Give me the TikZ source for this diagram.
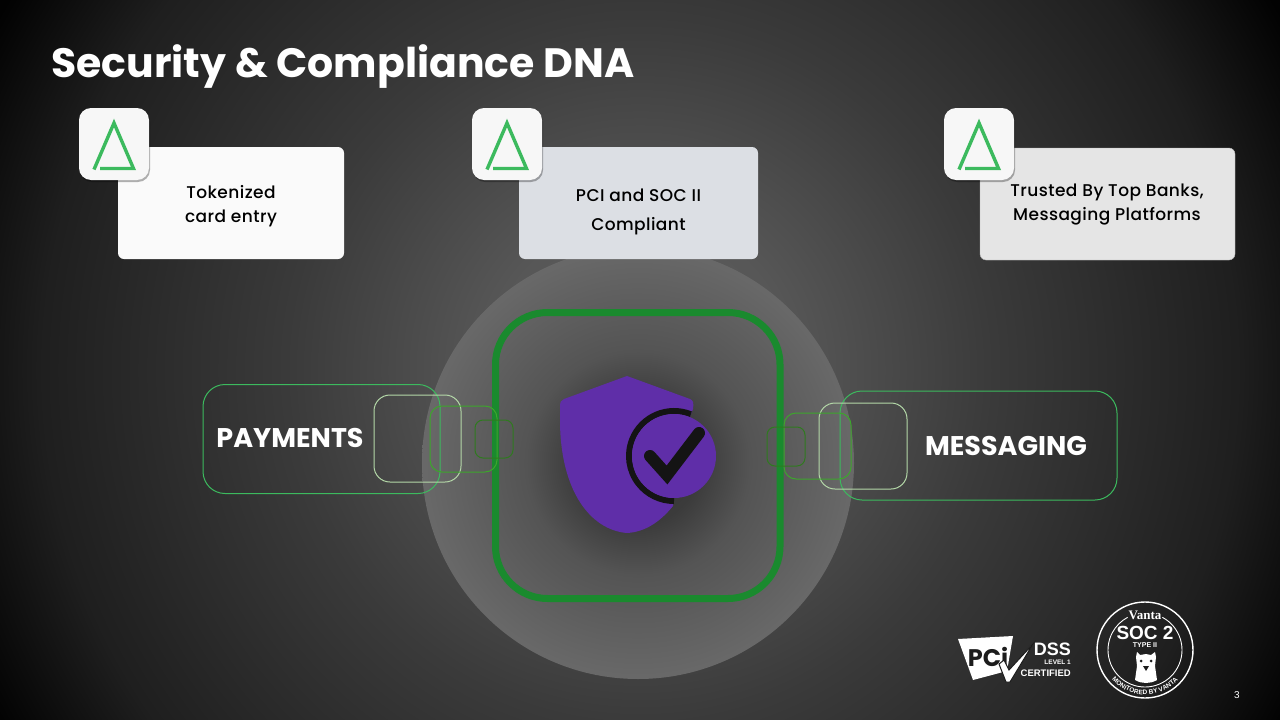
\documentclass[tikz,border=0pt]{standalone}
\usepackage{fontspec}
\setmainfont{Poppins}
\newfontfamily\medfont{Poppins Medium}[LetterSpace=2.5]
\newfontfamily\arialfont{Liberation Sans}
\newfontfamily\serifbold{Liberation Serif}
\usepackage{tikz}
\usetikzlibrary{shadows,decorations.text}

\definecolor{deltagreen}{HTML}{3CBA5E}
\definecolor{framegreen}{HTML}{1A8A2E}
\definecolor{palegreen}{HTML}{B4D8A8}
\definecolor{midgreen}{HTML}{3DA62C}
\definecolor{deepgreen}{HTML}{2F7A1F}
\definecolor{shieldpurple}{HTML}{5F2EA8}
\definecolor{inkdark}{HTML}{141414}
\definecolor{badgedark}{HTML}{1C1C1C}
\definecolor{cardgrey}{HTML}{DCDFE4}
\definecolor{cardlight}{HTML}{E5E5E5}

\pgfdeclareradialshading{slideglow}{\pgfpointorigin}{
  color(0bp)=(black!62!white);
  color(5bp)=(black!66!white);
  color(11.5bp)=(black!77!white);
  color(19.7bp)=(black!88!white);
  color(24bp)=(black!99!white);
  color(25bp)=(black);
  color(50bp)=(black)}
\pgfdeclareradialshading{coreglow}{\pgfpointorigin}{
  color(0bp)=(black!78!white);
  color(7bp)=(black!77!white);
  color(13bp)=(black!67!white);
  color(25bp)=(black!59!white);
  color(50bp)=(black!59!white)}

\tikzset{
  cardbox/.style={rectangle,rounded corners=6,inner sep=0},
  cardtext/.style={align=center,text=black},
  iconbox/.style={rectangle,rounded corners=12,fill=white!97!black,inner sep=0,
    minimum width=70,minimum height=72,
    drop shadow={shadow xshift=1pt,shadow yshift=-2pt,opacity=.3,fill=black}},
  tabbox/.style={rectangle,rounded corners=#1,inner sep=0,line width=1},
  tablabel/.style={text=white,font=\bfseries\fontsize{27}{30}\selectfont},
  deltamark/.pic={
    \draw[deltagreen,line width=3.4] (-14,24.5) -- (19.5,24.5) -- (0,-21) -- (-20,25.5);
  }
}

\begin{document}
\begin{tikzpicture}[x=1pt,y=-1pt]
\useasboundingbox (0,0) rectangle (1280,720);
\begin{scope}
\clip (0,0) rectangle (1280,720);
\shade[shading=slideglow] (640,370) circle (760);
\end{scope}

\node[anchor=base west,inner sep=0,text=white,font=\bfseries\fontsize{41}{44}\selectfont] (title) at (51,77) {Security \& Compliance DNA};

% centre
\shade[shading=coreglow] (638,463) circle (216);
\draw[framegreen,line width=7,rounded corners=52] (495.5,312.5) rectangle (780,598.5);

% shield
\fill[shieldpurple] (627,376) -- (690,399) .. controls (693,400) and (694,403) .. (693,409)
  -- (674,456) -- (673,506) .. controls (660,522) and (645,532) .. (627,533)
  .. controls (590,530) and (560,490) .. (560,420) -- (560,407)
  .. controls (560,402) and (561,400) .. (564,399) -- cycle;
\draw[inkdark,line width=6] (674,456) ++(292:45) arc (292:90:45);
\fill[shieldpurple] (674,456) circle (42);
\draw[inkdark,line width=12,line cap=round] (650,456) -- (667,475) -- (699,433);

% cards
\node[cardbox,fill=white!98!black,minimum width=226,minimum height=112] (cardA) at (231,203) {};
\node[cardbox,fill=cardgrey,minimum width=239,minimum height=112] (cardB) at (638.5,203) {};
\node[cardbox,fill=cardlight,draw=black!30,minimum width=255,minimum height=112] (cardC) at (1107.5,204) {};
\node[cardtext,font=\medfont\fontsize{17}{24}\selectfont] (textA) at (231,206) {Tokenized\\card entry};
\node[cardtext,font=\medfont\fontsize{17}{29}\selectfont] (textB) at (638.5,212) {PCI and SOC II\\Compliant};
\node[cardtext,font=\medfont\fontsize{17}{24}\selectfont] (textC) at (1107,205) {Trusted By Top Banks,\\Messaging Platforms};

\node[iconbox] (iconA) at (114,144) {};
\node[iconbox] (iconB) at (507,144) {};
\node[iconbox] (iconC) at (979,144) {};
\pic at (iconA.center) {deltamark};
\pic at (iconB.center) {deltamark};
\pic at (iconC.center) {deltamark};

% payments
\node[tabbox=22,draw=deltagreen,minimum width=237,minimum height=109] (payA) at (321.5,439) {};
\node[tabbox=16,draw=palegreen,minimum width=87,minimum height=87] (payB) at (417.5,438.5) {};
\node[tabbox=12,draw=midgreen,minimum width=67,minimum height=66] (payC) at (463.5,439) {};
\node[tabbox=8,draw=deepgreen,minimum width=38,minimum height=38] (payD) at (494,439) {};
\node[tablabel] (payText) at (290,438) {PAYMENTS};

% messaging
\node[tabbox=22,draw=deltagreen,minimum width=277,minimum height=109] (msgA) at (978.5,445.5) {};
\node[tabbox=16,draw=palegreen,minimum width=88,minimum height=86] (msgB) at (863,446) {};
\node[tabbox=12,draw=midgreen,minimum width=67,minimum height=66] (msgC) at (817.5,446) {};
\node[tabbox=8,draw=deepgreen,minimum width=38,minimum height=39] (msgD) at (786,446.5) {};
\node[tablabel] (msgText) at (1006,446) {MESSAGING};

% pci logo
\fill[white] (958,639) -- (1013,636) -- (1007,671) -- (973,680) -- cycle;
\node[text=badgedark,font=\bfseries\fontsize{24}{24}\selectfont] (pciText) at (988,657) {PCi};
\fill[white,draw=badgedark,line width=1] (999,664) -- (1004,660) -- (1009,670) -- (1033,644) -- (1010,682) -- (1006,682) -- cycle;
\node[anchor=base east,inner sep=0,text=white,font=\arialfont\bfseries\fontsize{18}{18}\selectfont] (dssText) at (1071,655) {DSS};
\node[anchor=base east,inner sep=0,text=white,font=\arialfont\bfseries\fontsize{6.5}{7}\selectfont] (levelText) at (1071,664) {LEVEL 1};
\node[anchor=base east,inner sep=0,text=white,font=\arialfont\bfseries\fontsize{9.5}{10}\selectfont] (certText) at (1071,676) {CERTIFIED};

% soc badge
\draw[white,line width=1.4] (1145,650) circle (48);
\draw[white,line width=.9] (1145,650) ++(-62:37) arc (-62:242:37);
\node[text=white,font=\serifbold\bfseries\fontsize{13}{13}\selectfont] (vantaText) at (1145,615) {Vanta};
\node[text=white,font=\arialfont\bfseries\fontsize{19}{19}\selectfont] (socText) at (1145,633) {SOC 2};
\node[text=white,font=\arialfont\bfseries\fontsize{7}{7}\selectfont] (typeText) at (1145,645) {TYPE II};
\fill[white] (1136,657) -- (1137,652) -- (1140,655) -- (1146,654) -- (1151,655) -- (1155,652) -- (1156,657)
  -- (1155,666) -- (1157,680) .. controls (1150,684) and (1142,684) .. (1135,680) -- (1137,666) -- cycle;
\fill[badgedark] (1141,661) circle (1.5) (1151,661) circle (1.5);
\fill[badgedark] (1143,666) -- (1149,666) -- (1146,671) -- cycle;
\path[decorate,decoration={text along path,text align=center,
  text={|\arialfont\bfseries\fontsize{6.5}{7}\selectfont\color{white}|MONITORED BY VANTA}}]
  (1145,650) ++(155:44.5) arc (155:25:44.5);

\node[text=white,font=\arialfont\fontsize{10}{10}\selectfont] (pageNo) at (1237,695) {3};
\end{tikzpicture}
\end{document}
